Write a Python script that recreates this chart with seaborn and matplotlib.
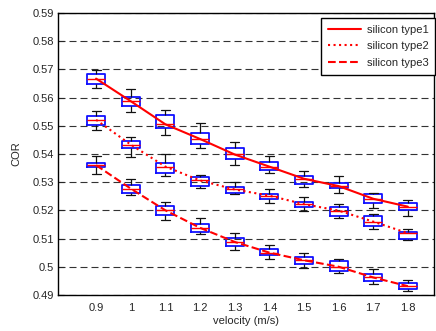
import numpy as np
import pandas as pd
import matplotlib
matplotlib.use("Agg")
import matplotlib.pyplot as plt
import seaborn as sns

# velocity categories (m/s)
velocity = [0.9, 1.0, 1.1, 1.2, 1.3, 1.4, 1.5, 1.6, 1.7, 1.8]

# box stats: (whisker low, q1, median, q3, whisker high)
type1_stats = [
    (0.5632, 0.5647, 0.5667, 0.5682, 0.5696),
    (0.5549, 0.5569, 0.5587, 0.5602, 0.5630),
    (0.5466, 0.5493, 0.5505, 0.5537, 0.5555),
    (0.5420, 0.5435, 0.5453, 0.5473, 0.5511),
    (0.5359, 0.5381, 0.5398, 0.5420, 0.5443),
    (0.5332, 0.5343, 0.5355, 0.5371, 0.5393),
    (0.5284, 0.5295, 0.5312, 0.5321, 0.5339),
    (0.5260, 0.5278, 0.5286, 0.5298, 0.5321),
    (0.5209, 0.5227, 0.5241, 0.5259, 0.5262),
    (0.5180, 0.5201, 0.5213, 0.5227, 0.5235),
]
type2_stats = [
    (0.5486, 0.5501, 0.5521, 0.5535, 0.5553),
    (0.5390, 0.5421, 0.5433, 0.5445, 0.5460),
    (0.5322, 0.5334, 0.5355, 0.5369, 0.5400),
    (0.5280, 0.5288, 0.5306, 0.5319, 0.5327),
    (0.5257, 0.5262, 0.5274, 0.5284, 0.5301),
    (0.5225, 0.5239, 0.5252, 0.5259, 0.5274),
    (0.5198, 0.5211, 0.5222, 0.5231, 0.5247),
    (0.5174, 0.5181, 0.5199, 0.5213, 0.5221),
    (0.5133, 0.5145, 0.5160, 0.5180, 0.5188),
    (0.5093, 0.5098, 0.5119, 0.5123, 0.5135),
]
type3_stats = [
    (0.5329, 0.5353, 0.5360, 0.5369, 0.5394),
    (0.5253, 0.5260, 0.5277, 0.5291, 0.5310),
    (0.5164, 0.5183, 0.5200, 0.5215, 0.5231),
    (0.5116, 0.5122, 0.5138, 0.5153, 0.5174),
    (0.5059, 0.5074, 0.5088, 0.5102, 0.5120),
    (0.5029, 0.5040, 0.5050, 0.5064, 0.5076),
    (0.4997, 0.5008, 0.5023, 0.5036, 0.5050),
    (0.4976, 0.4986, 0.5000, 0.5020, 0.5027),
    (0.4939, 0.4951, 0.4962, 0.4973, 0.4992),
    (0.4915, 0.4921, 0.4931, 0.4943, 0.4952),
]

series = [
    ("silicon type1", type1_stats, "-"),
    ("silicon type2", type2_stats, ":"),
    ("silicon type3", type3_stats, "--"),
]

y_ticks = [0.49, 0.50, 0.51, 0.52, 0.53, 0.54, 0.55, 0.56, 0.57, 0.58, 0.59]

sns.set_theme(style="white")
plt.rcParams["font.family"] = ["Liberation Sans", "DejaVu Sans"]
plt.rcParams["font.size"] = 8

fig = plt.figure(figsize=(4.36, 3.31), dpi=100)
ax = fig.add_axes([0.133, 0.109, 0.862, 0.852])

# dashed horizontal grid
for yv in y_ticks:
    ax.axhline(yv, color="#333333", lw=0.8, linestyle=(0, (6.3, 3.6)), zorder=0)

for name, stats, ls in series:
    rows = []
    for v, st in zip(velocity, stats):
        for s in st:
            rows.append({"velocity": v, "COR": s})
    df = pd.DataFrame(rows)
    sns.boxplot(
        data=df, x="velocity", y="COR", native_scale=True, fill=False,
        width=0.52, whis=(0, 100), linewidth=1.1, ax=ax,
        boxprops=dict(color="#1010ff", linewidth=1.3),
        medianprops=dict(color="red", linewidth=1.0),
        whiskerprops=dict(color="#111111", linewidth=0.9),
        capprops=dict(color="#111111", linewidth=0.9),
        showfliers=False,
    )
    med = [st[2] for st in stats]
    sns.lineplot(x=velocity, y=med, color="red", linewidth=1.5,
                 linestyle=ls, label=name, ax=ax, zorder=5)

ax.set_xlim(0.79, 1.875)
ax.set_ylim(0.49, 0.59)
ax.set_xticks(velocity)
ax.set_xticklabels([f"{v:g}" for v in velocity])
ax.set_yticks(y_ticks)
ax.set_yticklabels([f"{v:g}" for v in y_ticks])
ax.tick_params(axis="y", direction="in", length=4, width=0.8, left=True, labelsize=8, pad=3)
ax.tick_params(axis="x", length=0, labelsize=8, pad=6)
ax.set_xlabel("velocity (m/s)", fontsize=8, labelpad=2)
ax.set_ylabel("COR", fontsize=8, labelpad=8)

for sp in ax.spines.values():
    sp.set_color("black")
    sp.set_linewidth(1.0)
    sp.set_visible(True)

leg = ax.legend(loc="upper right", bbox_to_anchor=(1.003, 0.982), borderaxespad=0,
                fontsize=8, frameon=True, fancybox=False, framealpha=1,
                handlelength=3.0, handletextpad=0.5, labelspacing=0.6,
                borderpad=0.6)
leg.get_frame().set_edgecolor("black")
leg.get_frame().set_linewidth(1.0)

fig.savefig("out.png", dpi=100)
plt.close(fig)
